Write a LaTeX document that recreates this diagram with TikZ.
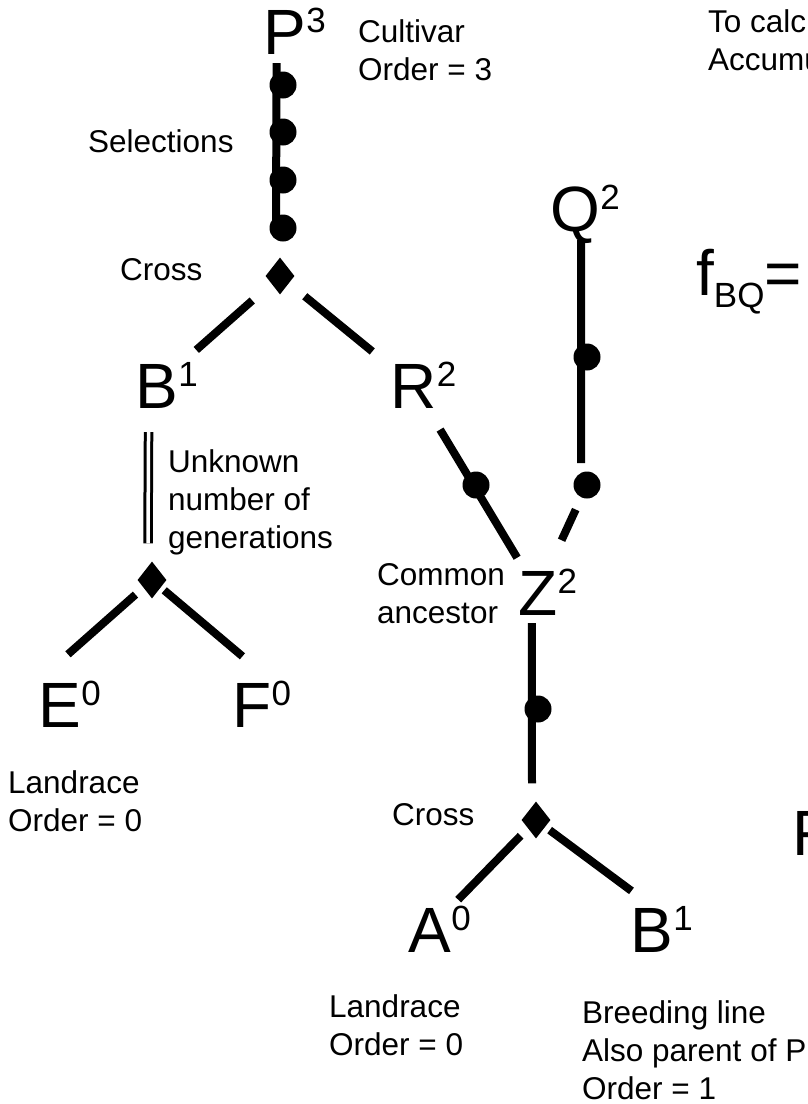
\documentclass[tikz,border=0pt]{standalone}
\usepackage{fontspec}
\setmainfont{Liberation Sans}
\usetikzlibrary{shapes.geometric}
\newcommand\bigsize{\fontsize{64}{64}\selectfont}
\newcommand\supsize{\fontsize{35}{35}\selectfont}
\newcommand\labelsize{\fontsize{31.5}{38}\selectfont}
\tikzset{
  gen/.style={font=\bigsize, inner sep=0, anchor=base west, text height=46pt, text depth=0pt},
  ordnum/.style={font=\supsize, inner sep=0, anchor=north west},
  note/.style={font=\labelsize, inner sep=0, anchor=base west, align=left},
  link/.style={line width=8pt},
  bead/.style={circle, fill, inner sep=0, minimum size=27pt},
  crossing/.style={diamond, fill, inner sep=0, minimum width=29pt, minimum height=37pt},
}

\begin{document}
\begin{tikzpicture}[x=1pt, y=-1pt]
\clip (0,0) rectangle (808,1104);
% lines and their order
\node[gen, label={[ordnum]north east:3}] (P) at (263,54) {P};
\node[gen, label={[ordnum]north east:1}] (B) at (135,408) {B};
\node[gen, label={[ordnum]north east:2}] (R) at (390,408) {R};
\node[gen, label={[ordnum]north east:2}] (Q) at (550,231) {Q};
\node[gen, label={[ordnum]north east:2}] (Z) at (518,615) {Z};
\node[gen, label={[ordnum]north east:0}] (E) at (38,727) {E};
\node[gen, label={[ordnum]north east:0}] (F) at (232,727) {F};
\node[gen, label={[ordnum]north east:0}] (A) at (408,952) {A};
\node[gen, label={[ordnum]north east:1}] (B2) at (630,952) {B};
% crosses
\node[crossing] (Xp) at (280,276) {};
\node[crossing] (Xb) at (152,580) {};
\node[crossing] (Xa) at (536,820) {};
% selections
\foreach \y [count=\i] in {85,132,180,228}
  \node[bead] (s\i) at (283,\y) {};
\node[bead] (q1) at (587,357) {};
\node[bead] (q2) at (587,485) {};
\node[bead] (r1) at (476,485) {};
\node[bead] (z1) at (538,709) {};
% pedigree lines
\draw[link] ([shift={(-8,9)}]P.south) -- ([shift={(-7,7)}]s4.center);
\draw[link, shorten <=37pt, shorten >=53pt] (Xp.center) -- (B.center);
\draw[link, shorten <=32pt, shorten >=53pt] (Xp.center) -- (R.center);
\draw[link, shorten <=52pt, shorten >=40pt] (R.center) -- (Z.center);
\draw[link] ([shift={(6,9)}]Q.south) -- ([shift={(-6,-22)}]q2.center);
\draw[link, shorten <=27pt, shorten >=57pt] (q2.center) -- (Z.center);
\draw[link] ([shift={(-6,8)}]Z.south) -- ([shift={(-4,-18)}]Xa.north);
\draw[link, shorten <=22pt, shorten >=41pt] (Xa.center) -- (A.center);
\draw[link, shorten <=17pt, shorten >=25pt] (Xa.center) -- (B2.north);
\draw[line width=3pt, double, double distance=3.5pt] ([shift={(-8,24)}]B.south) -- ([shift={(-4,-18)}]Xb.north);
\draw[link, shorten <=22pt, shorten >=40pt] (Xb.center) -- (E.north west);
\draw[link, shorten <=16pt, shorten >=38pt] (Xb.center) -- (F.north east);
% notes (base is the last line)
\node[note] (cv) at (358,80) {Cultivar\\Order = 3};
\node[note] (sel) at (88,152) {Selections};
\node[note] (cr1) at (120,280) {Cross};
\node[note] (unk) at (168,548) {Unknown\\number of\\generations};
\node[note] (com) at (377,623) {Common\\ancestor};
\node[note] (lr1) at (8,831) {Landrace\\Order = 0};
\node[note] (cr2) at (392,825) {Cross};
\node[note] (lr2) at (329,1055) {Landrace\\Order = 0};
\node[note] (brd) at (582,1099) {Breeding line\\Also parent of P\\Order = 1};
\node[note] (calc) at (708,70) {To calc\\Accumu};
\node[gen] (fbq) at (696,295) {f\raisebox{-12pt}{\supsize BQ}=};
\node[gen] (Fr) at (792,855) {F};
\end{tikzpicture}
\end{document}
